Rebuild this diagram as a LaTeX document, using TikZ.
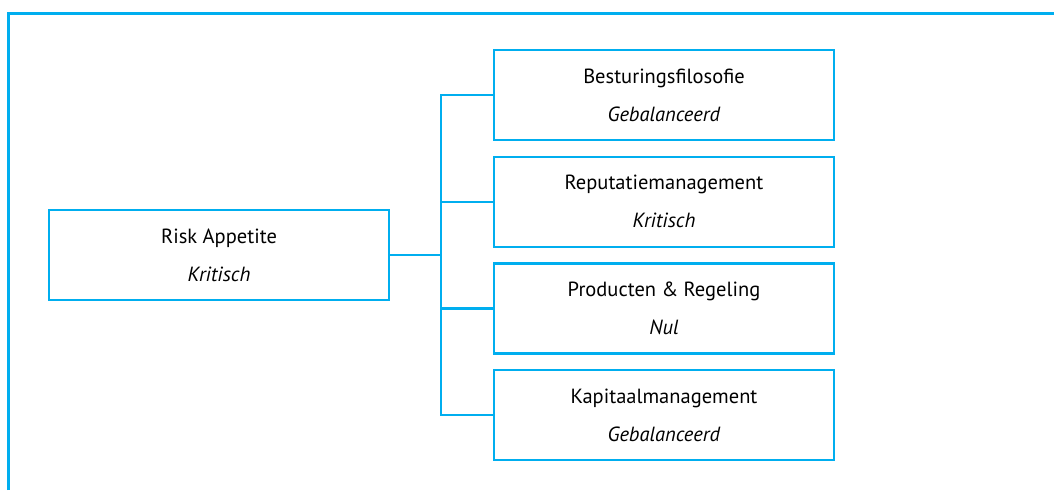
\documentclass[tikz,border=0pt]{standalone}
\usepackage{fontspec}
\setmainfont{PT Sans}
\usepackage{xcolor}
\definecolor{kaderblauw}{RGB}{0,174,239}
\usetikzlibrary{positioning}
\tikzset{
  lijn/.style={draw=kaderblauw, line width=2.3pt},
  blok/.style={lijn, fill=white, minimum width=340pt, minimum height=90pt,
    align=center, font=\fontsize{20.5pt}{24pt}\selectfont},
}

\begin{document}
\begin{tikzpicture}[x=1pt, y=-1pt, node distance=14.4pt]
\useasboundingbox (0,0) rectangle (1054,490);
% kader
\draw[lijn] (8.5,490) -- (8.5,13.5) -- (1054,13.5);
% blokken
\node[blok] (root) at (219,255) {Risk Appetite\\[14pt]\textit{Kritisch}};
\node[blok] (b1) at (664,95) {Besturingsfilosofie\\[14pt]\textit{Gebalanceerd}};
\node[blok, below=of b1] (b2) {Reputatiemanagement\\[14pt]\textit{Kritisch}};
\node[blok, below=of b2] (b3) {Producten \& Regeling\\[14pt]\textit{Nul}};
\node[blok, below=of b3] (b4) {Kapitaalmanagement\\[14pt]\textit{Gebalanceerd}};
% verbindingen
\draw[lijn] (b1.west) -- ++(-52pt,0) coordinate (bus) |- (b4.west);
\draw[lijn] (root.east) -- (bus |- root.east);
\foreach \b in {b2,b3}
  \draw[lijn] (\b.west) -- (bus |- \b.west);
\end{tikzpicture}
\end{document}
